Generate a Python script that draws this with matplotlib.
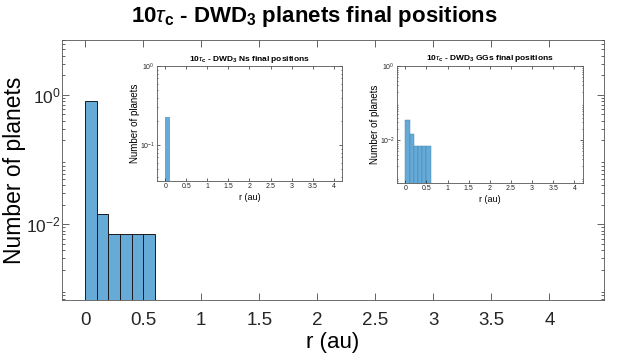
import numpy as np
import matplotlib
matplotlib.use('Agg')
from matplotlib import pyplot as plt
from matplotlib import font_manager
from matplotlib.ticker import LogLocator, NullFormatter, FixedLocator

plt.rcParams['font.family'] = ['Liberation Sans', 'DejaVu Sans']
plt.rcParams['mathtext.fontset'] = 'custom'
plt.rcParams['mathtext.rm'] = 'Liberation Sans'
plt.rcParams['mathtext.it'] = 'Liberation Sans:italic'
plt.rcParams['mathtext.bf'] = 'Liberation Sans:bold'

installed = {f.name for f in font_manager.fontManager.ttflist}
narrow = 'Liberation Sans Narrow' if 'Liberation Sans Narrow' in installed else 'Liberation Sans'

# bin edges (au) and normalised counts
all_edges = [0.0, 0.1, 0.2, 0.3, 0.4, 0.5, 0.6]
all_vals = [0.787, 0.0142, 0.0071, 0.0071, 0.0071, 0.0071]

ns_edges = [0.0, 0.1]
ns_vals = [0.224]

gg_edges = [0.0, 0.1, 0.2, 0.3, 0.4, 0.5, 0.6]
gg_vals = [0.0355, 0.0142, 0.0071, 0.0071, 0.0071, 0.0071]

xticks = [0, 0.5, 1, 1.5, 2, 2.5, 3, 3.5, 4]
xticklabels = ['0', '0.5', '1', '1.5', '2', '2.5', '3', '3.5', '4']

bar_color = '#66aad7'
axis_grey = '#262626'

fig = plt.figure(figsize=(6.22, 3.6), dpi=100)


def style_axes(ax, size, ticklen, pad):
    ax.set_yscale('log')
    ax.set_xticks(xticks)
    ax.set_xticklabels(xticklabels)
    ax.tick_params(which='both', direction='in', top=True, right=True,
                   labelsize=size, colors=axis_grey, width=0.5, pad=pad)
    ax.tick_params(which='major', length=ticklen)
    ax.tick_params(which='minor', length=ticklen * 0.5)
    ax.yaxis.set_minor_locator(LogLocator(base=10, subs=np.arange(2, 10), numticks=20))
    ax.yaxis.set_minor_formatter(NullFormatter())
    for s in ax.spines.values():
        s.set_linewidth(0.6)
        s.set_color('#555555')


# main histogram
ax = fig.add_axes([0.0997, 0.1667, 0.8713, 0.7223])
ax.bar(all_edges[:-1], all_vals, width=np.diff(all_edges), align='edge',
       color=bar_color, edgecolor='#1a1a1a', linewidth=0.7)
style_axes(ax, 13.5, 5, 9)
ax.tick_params(axis='y', pad=1, labelsize=12.5)
ax.set_xlim(-0.2, 4.47)
ax.set_ylim(6.8e-4, 7.0)
ax.yaxis.set_major_locator(FixedLocator([1e-2, 1e0]))
ax.set_xlabel('r (au)', fontsize=16, labelpad=2)
ax.set_ylabel('Number of planets', fontsize=16.5)
ax.yaxis.set_label_coords(-0.066, 0.5)
fig.suptitle(r'10$\tau_\mathbf{c}$ - DWD$_\mathbf{3}$ planets final positions',
             x=0.505, y=0.99, fontsize=16, fontweight='bold')

# inset: Ns
ax1 = fig.add_axes([0.2524, 0.497, 0.2974, 0.319])
ax1.bar(ns_edges[:-1], ns_vals, width=np.diff(ns_edges), align='edge',
        color=bar_color, edgecolor='none')
style_axes(ax1, 5, 2, 1.5)
ax1.set_xlim(-0.2, 4.2)
ax1.set_ylim(0.035, 1.0)
ax1.yaxis.set_major_locator(FixedLocator([1e-1, 1e0]))
ax1.set_xlabel('r (au)', fontsize=6.5, labelpad=2)
ax1.set_ylabel('Number of planets', fontsize=7, labelpad=0)
ax1.set_title(r'10$\tau_\mathbf{c}$ - DWD$_\mathbf{3}$ Ns final positions',
              fontsize=6, fontweight='bold', pad=4, family=narrow)

# inset: GGs
ax2 = fig.add_axes([0.638, 0.4917, 0.299, 0.325])
ax2.bar(gg_edges[:-1], gg_vals, width=np.diff(gg_edges), align='edge',
        color=bar_color, edgecolor='#3f7fae', linewidth=0.3)
style_axes(ax2, 5, 2, 1.5)
ax2.set_xlim(-0.2, 4.2)
ax2.set_ylim(6.9e-4, 1.0)
ax2.yaxis.set_major_locator(FixedLocator([1e-2, 1e0]))
ax2.set_xlabel('r (au)', fontsize=6.5, labelpad=2)
ax2.set_ylabel('Number of planets', fontsize=7, labelpad=0)
ax2.set_title(r'10$\tau_\mathbf{c}$ - DWD$_\mathbf{3}$ GGs final positions',
              fontsize=6, fontweight='bold', pad=4, family=narrow)

fig.savefig('out.png', dpi=100)
